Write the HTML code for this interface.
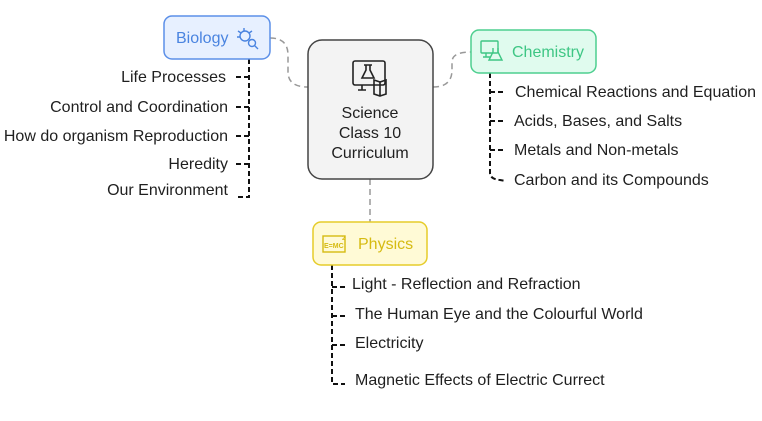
<!DOCTYPE html>
<html><head><meta charset="utf-8"><style>
html,body{margin:0;padding:0;background:#fff;width:762px;height:421px;overflow:hidden}
text{font-family:"Liberation Sans",sans-serif;font-size:16px;fill:#1f1f1f}
</style></head><body>
<svg width="762" height="421" viewBox="0 0 762 421" xmlns="http://www.w3.org/2000/svg">
<g fill="none" stroke="#999" stroke-width="1.5" stroke-dasharray="6,4">
<path d="M270 38 Q288 38 288 55 L288 72 Q288 87 308 87"/>
<path d="M433 87 Q452 87 452 70 L452 62 Q452 52 471 52"/>
<path d="M370 179 L370 222"/>
</g>
<g fill="none" stroke="#111" stroke-width="2" stroke-dasharray="5,3">
<path d="M249 59 L249 197 L236 197"/>
<path d="M236 77 L249 77 M236 107 L249 107 M236 136 L249 136 M236 164 L249 164"/>
<path d="M490 73 L490 173 Q490 179 500 180 L506 181"/>
<path d="M490 92 L503 92 M490 121 L503 121 M490 150 L503 150"/>
<path d="M332 265 L332 384 L345 384"/>
<path d="M332 287 L345 287 M332 316 L345 316 M332 345 L345 345"/>
</g>
<rect x="308" y="40" width="125" height="139" rx="14" fill="#f3f3f3" stroke="#444" stroke-width="1.5"/>
<g fill="none" stroke="#222" stroke-width="1.6">
<rect x="353" y="61" width="32" height="24" rx="2"/>
<path d="M366 65 L366 70 L362 78 L374 78 L370 70 L370 65 M364 65 L372 65"/>
<path d="M362 85 L362 90 M358 90 L366 90"/>
<path d="M374 80 L380 82 L386 80 L386 94 L380 96 L374 94 Z M380 82 L380 96"/>
</g>
<text x="370" y="118" text-anchor="middle">Science</text>
<text x="370" y="138" text-anchor="middle">Class 10</text>
<text x="370" y="158" text-anchor="middle">Curriculum</text>

<rect x="164" y="16" width="106" height="43" rx="8" fill="#e7f0ff" stroke="#5b8fe8" stroke-width="1.5"/>
<text x="176" y="43" style="fill:#4a84e0;font-size:16px">Biology</text>
<g fill="none" stroke="#4a84e0" stroke-width="1.4">
<circle cx="245" cy="36" r="5"/><circle cx="252" cy="43" r="3.5"/><path d="M254.5 45.5 L258 49 M238 31 L241 33 M252 31 L249 33 M237 37 L240 37 M244 28 L244 31"/>
</g>

<rect x="471" y="30" width="125" height="43" rx="8" fill="#e0fbee" stroke="#4dcf8f" stroke-width="1.5"/>
<text x="512" y="57" style="fill:#3ec684;font-size:16px">Chemistry</text>
<g fill="none" stroke="#3ec684" stroke-width="1.4">
<rect x="481" y="41" width="17" height="12" rx="1"/><path d="M486 53 L486 57 M483 57 L490 57"/>
<path d="M493 48 L493 52 L489 60 L502 60 L498 52 L498 48"/>
</g>

<rect x="313" y="222" width="114" height="43" rx="8" fill="#fffad6" stroke="#e6cc2a" stroke-width="1.5"/>
<text x="358" y="249" style="fill:#d6bb12;font-size:16px">Physics</text>
<rect x="323" y="236" width="22" height="16" fill="none" stroke="#d6bb12" stroke-width="1.4"/>
<text x="324" y="248" style="fill:#d6bb12;font-size:7px;font-weight:bold">E=MC</text>
<text x="342" y="240" style="fill:#d6bb12;font-size:6px;font-weight:bold">2</text>

<g text-anchor="end">
<text x="226" y="82">Life Processes</text>
<text x="228" y="112">Control and Coordination</text>
<text x="228" y="141">How do organism Reproduction</text>
<text x="228" y="169">Heredity</text>
<text x="228" y="195">Our Environment</text>
</g>
<text x="515" y="97">Chemical Reactions and Equation</text>
<text x="514" y="126">Acids, Bases, and Salts</text>
<text x="514" y="155">Metals and Non-metals</text>
<text x="514" y="185">Carbon and its Compounds</text>
<text x="352" y="289">Light - Reflection and Refraction</text>
<text x="355" y="319">The Human Eye and the Colourful World</text>
<text x="355" y="348">Electricity</text>
<text x="355" y="385">Magnetic Effects of Electric Currect</text>
</svg>
</body></html>
